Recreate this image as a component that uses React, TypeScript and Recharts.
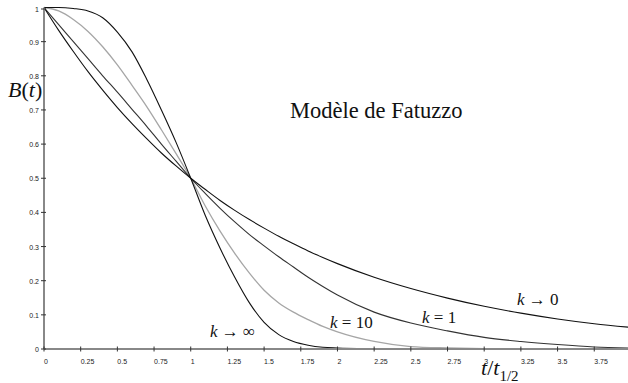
import React from "react"
import { LineChart, Line, XAxis, YAxis } from "recharts"

// t / t1/2
const xs = [0, 0.1, 0.2, 0.3, 0.4, 0.5, 0.6, 0.7, 0.8, 0.9, 1.0, 1.1, 1.2, 1.3, 1.4, 1.5, 1.6, 1.7, 1.8, 1.9, 2.0, 2.25, 2.5, 2.75, 3.0, 3.25, 3.5, 3.75, 3.98]

// B(t)
const kZero = [1, 0.933, 0.871, 0.812, 0.758, 0.707, 0.66, 0.616, 0.574, 0.536, 0.5, 0.467, 0.435, 0.406, 0.379, 0.354, 0.33, 0.308, 0.287, 0.268, 0.25, 0.21, 0.177, 0.149, 0.125, 0.105, 0.088, 0.074, 0.064]
const kOne = [1, 0.95, 0.9, 0.85, 0.8, 0.752, 0.702, 0.652, 0.6, 0.55, 0.5, 0.455, 0.412, 0.372, 0.335, 0.302, 0.27, 0.24, 0.21, 0.183, 0.158, 0.108, 0.076, 0.053, 0.034, 0.022, 0.013, 0.006, 0.003]
const kTen = [1, 0.99, 0.965, 0.93, 0.885, 0.832, 0.772, 0.71, 0.642, 0.572, 0.5, 0.418, 0.345, 0.28, 0.222, 0.172, 0.135, 0.108, 0.086, 0.066, 0.05, 0.022, 0.007, 0.003, 0.001, 0, 0, 0, 0]
const kInf = [1, 1, 0.997, 0.99, 0.97, 0.928, 0.87, 0.79, 0.7, 0.605, 0.5, 0.39, 0.295, 0.21, 0.135, 0.078, 0.042, 0.022, 0.011, 0.005, 0.003, 0.001, 0, 0, 0, 0, 0, 0, 0]

const xTicks = [0, 0.25, 0.5, 0.75, 1, 1.25, 1.5, 1.75, 2, 2.25, 2.5, 2.75, 3, 3.25, 3.5, 3.75]
const yTicks = [0, 0.1, 0.2, 0.3, 0.4, 0.5, 0.6, 0.7, 0.8, 0.9, 1]

const data = xs.map((x, i) => ({ x, k0: kZero[i], k1: kOne[i], k10: kTen[i], kinf: kInf[i] }))

const tickFont = "'Liberation Sans', Arial, sans-serif"
const serif = "'Liberation Serif', 'DejaVu Serif', 'Times New Roman', Times, serif"

const XTick = (props: any) => {
  const { x, y, payload } = props
  return (
    <g>
      <line x1={x} x2={x} y1={y - 2.5} y2={y + 2.5} stroke="#333" strokeWidth={1} />
      <text x={x} y={y + 15} fontSize={7} fontFamily={tickFont} fill="#222" textAnchor="start">
        {String(payload.value)}
      </text>
    </g>
  )
}

const YTick = (props: any) => {
  const { x, y, payload } = props
  return (
    <g>
      <line x1={x - 3} x2={x + 2} y1={y} y2={y} stroke="#333" strokeWidth={1} />
      <text x={x - 5} y={y + 3} fontSize={7} fontFamily={tickFont} fill="#222" textAnchor="end">
        {String(payload.value)}
      </text>
    </g>
  )
}

export default function App() {
  return (
    <div style={{ position: "absolute", left: 0, top: 0, width: 628, height: 383, background: "#fff" }}>
      <LineChart width={628} height={383} data={data} margin={{ top: 7.5, right: 0, left: 0, bottom: 0 }}>
        <XAxis
          dataKey="x"
          type="number"
          domain={[0, 3.98]}
          ticks={xTicks}
          height={34}
          tickSize={0}
          tickMargin={0}
          tickLine={false}
          tick={<XTick />}
          axisLine={{ stroke: "#888", strokeWidth: 2 }}
          allowDataOverflow
        />
        <YAxis
          type="number"
          domain={[0, 1]}
          ticks={yTicks}
          width={44}
          tickSize={0}
          tickMargin={0}
          tickLine={false}
          tick={<YTick />}
          axisLine={{ stroke: "#888", strokeWidth: 2 }}
        />
        <Line type="monotone" dataKey="k10" stroke="#a6a6a6" strokeWidth={1.3} dot={false} isAnimationActive={false} />
        <Line type="monotone" dataKey="k1" stroke="#333" strokeWidth={1.1} dot={false} isAnimationActive={false} />
        <Line type="monotone" dataKey="k0" stroke="#111" strokeWidth={1.1} dot={false} isAnimationActive={false} />
        <Line type="monotone" dataKey="kinf" stroke="#111" strokeWidth={1.1} dot={false} isAnimationActive={false} />
      </LineChart>
      <svg width={628} height={383} style={{ position: "absolute", left: 0, top: 0, pointerEvents: "none" }}>
        <g fontFamily={serif} fill="#111">
          <text x={8} y={97} fontSize={22}>
            <tspan fontStyle="italic">B</tspan>(<tspan fontStyle="italic">t</tspan>)
          </text>
          <text x={290} y={118} fontSize={22.5}>
            Modèle de Fatuzzo
          </text>
          <text x={517} y={305} fontSize={17}>
            <tspan fontStyle="italic">k</tspan> → 0
          </text>
          <text x={422} y={323} fontSize={17}>
            <tspan fontStyle="italic">k</tspan> = 1
          </text>
          <text x={330} y={328} fontSize={17}>
            <tspan fontStyle="italic">k</tspan> = 10
          </text>
          <text x={210} y={337} fontSize={17}>
            <tspan fontStyle="italic">k</tspan> → ∞
          </text>
          <text x={481} y={375} fontSize={22}>
            <tspan fontStyle="italic">t</tspan>/<tspan fontStyle="italic">t</tspan>
            <tspan fontSize={15} dy={6}>1/2</tspan>
          </text>
        </g>
      </svg>
    </div>
  )
}
